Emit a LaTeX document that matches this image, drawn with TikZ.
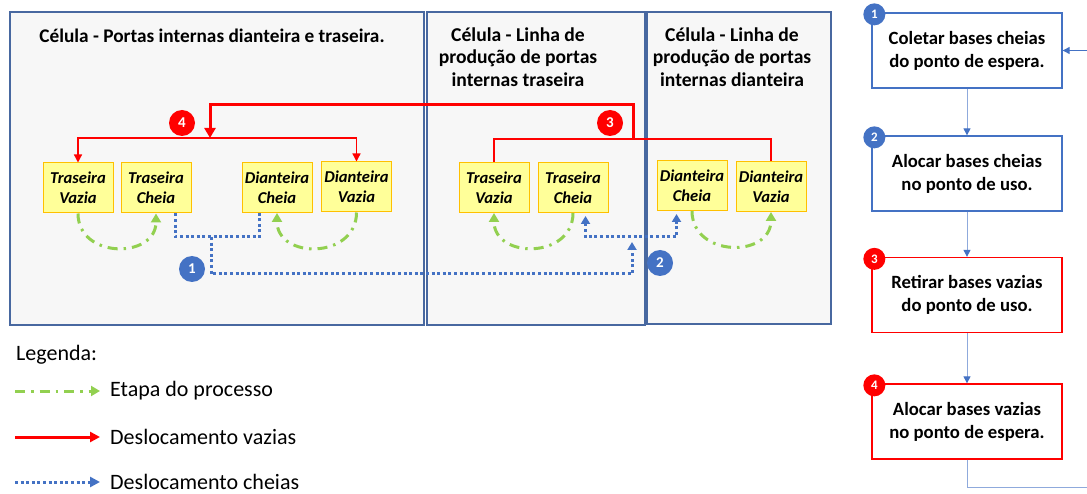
\documentclass[tikz,border=0pt]{standalone}
\usepackage{fontspec}
\setmainfont{Carlito}
\usetikzlibrary{
    arrows.meta,
    positioning
}
\definecolor{painel}{RGB}{72,104,160}
\definecolor{fundo}{RGB}{247,247,247}
\definecolor{amarelo}{RGB}{255,255,153}
\definecolor{ouro}{RGB}{255,192,0}
\definecolor{verde}{RGB}{146,208,80}
\definecolor{azul}{RGB}{68,114,196}
\definecolor{azulclaro}{RGB}{143,170,220}
\definecolor{vermelho}{RGB}{255,0,0}

\begin{document}
\begin{tikzpicture}[x=1pt, y=1pt,
    base/.style={draw=ouro, fill=amarelo, line width=1pt, minimum width=70pt, minimum height=50pt,
        align=center, inner sep=1pt, font=\fontsize{16.6}{20}\selectfont\bfseries\itshape},
    passo/.style={draw, line width=1.3pt, fill=white, minimum width=190pt, minimum height=75pt,
        align=center, font=\fontsize{18.7}{23}\selectfont\bfseries},
    marca/.style={circle, text=white, minimum size=26pt, inner sep=0pt, font=\fontsize{15}{15}\selectfont\bfseries},
    marquinha/.style={marca, minimum size=22pt, font=\fontsize{13}{13}\selectfont\bfseries},
    titulo/.style={align=center, font=\fontsize{19.6}{22.5}\selectfont\bfseries},
    legenda/.style={anchor=west, inner xsep=10pt, font=\fontsize{22}{24}\selectfont},
    etapa/.style={verde, line width=3pt, dash pattern=on 10pt off 6pt on 2.5pt off 6pt,
        -{Triangle[length=9pt, width=10pt]}},
    vazia/.style={vermelho, line width=1.3pt},
    cheia/.style={azul, line width=3pt, dash pattern=on 3pt off 2.6pt},
    fluxo/.style={azulclaro, line width=1pt}
]
    \useasboundingbox (0,0) rectangle (1087,-494);

    \draw[painel, line width=1.5pt, fill=fundo] (10,-12) rectangle (424,-325);
    \draw[painel, line width=1.5pt, fill=fundo] (427,-12) rectangle (645,-325);
    \draw[painel, line width=1.5pt, fill=fundo] (647,-12) rectangle (831,-324);

    \node[titulo, font=\fontsize{19.3}{22}\selectfont\bfseries] (t1) at (212,-36) {Célula - Portas internas dianteira e traseira.};
    \node[titulo] (t2) at (518,-57) {Célula - Linha de\\produção de portas\\internas traseira};
    \node[titulo] (t3) at (732,-57) {Célula - Linha de\\produção de portas\\internas dianteira};

    \node[base] (tv1) at (78,-188) {Traseira\\Vazia};
    \node[base] (tc1) at (156,-188) {Traseira\\Cheia};
    \node[base] (dc1) at (277,-187.5) {Dianteira\\Cheia};
    \node[base] (dv1) at (356.5,-187) {Dianteira\\Vazia};
    \node[base] (tv2) at (494,-187.5) {Traseira\\Vazia};
    \node[base] (tc2) at (573,-187.5) {Traseira\\Cheia};
    \node[base] (dc3) at (692,-185.5) {Dianteira\\Cheia};
    \node[base] (dv3) at (771,-186.5) {Dianteira\\Vazia};

    \coordinate (j4) at (210,-138);
    \coordinate (j3) at (633,-139);
    \coordinate (j1) at (211,-237);
    \coordinate (j2) at (632,-237);

    \draw[etapa] (tv1.south) to[out=-90, in=-90, looseness=1.5] (tc1.south);
    \draw[etapa] (dv1.south) to[out=-90, in=-90, looseness=1.5] (dc1.south);
    \draw[etapa] (tc2.south) to[out=-90, in=-90, looseness=1.5] (tv2.south);
    \draw[etapa] (dc3.south) to[out=-90, in=-90, looseness=1.5] (dv3.south);

    \draw[vazia, {Triangle[length=8pt, width=8pt]}-{Triangle[length=8pt, width=8pt]}] (tv1.north) |- (j4) -| (dv1.north);
    \draw[vazia] (tv2.north) |- (j3) -| (dv3.north);
    \draw[vazia, line width=3pt, -{Triangle[length=10pt, width=11pt]}] (j3) -- (j3 |- 0,-105) -| (j4);

    \draw[cheia] ([xshift=-16pt]tc1.south east) |- (j1) -| ([xshift=18pt]dc1.south west);
    \draw[cheia, -{Triangle[length=8pt, width=9pt]}, shorten >=5pt] (j1) -- (211,-274) -| (j2);
    \draw[cheia, {Triangle[length=8pt, width=9pt]}-{Triangle[length=8pt, width=9pt]}, shorten <=3pt, shorten >=3pt]
        ([xshift=-23pt]tc2.south east) |- (j2) -| ([xshift=20pt]dc3.south west);

    \node[marca, fill=azul] (b1) at (192,-269) {1};
    \node[marca, fill=azul] (b2) at (660,-263) {2};
    \node[marca, fill=vermelho] (b3) at (610,-123) {3};
    \node[marca, fill=vermelho] (b4) at (182,-123) {4};

    \node[passo, draw=azul] (s1) at (967,-50.5) {Coletar bases cheias\\do ponto de espera.};
    \node[passo, draw=azul] (s2) at (967,-173.5) {Alocar bases cheias\\no ponto de uso.};
    \node[passo, draw=vermelho] (s3) at (967,-295) {Retirar bases vazias\\do ponto de uso.};
    \node[passo, draw=vermelho] (s4) at (967,-421.5) {Alocar bases vazias\\no ponto de espera.};

    \node[marquinha, fill=azul] (m1) at ([shift={(3,-2)}]s1.north west) {1};
    \node[marquinha, fill=azul] (m2) at ([shift={(3,-2)}]s2.north west) {2};
    \node[marquinha, fill=vermelho] (m3) at ([shift={(3,-2)}]s3.north west) {3};
    \node[marquinha, fill=vermelho] (m4) at ([shift={(3,-2)}]s4.north west) {4};

    \coordinate (sai) at (1087,-487);
    \coordinate (entra) at (1087,-50.5);
    \draw
    (s1) edge[fluxo, -{Triangle[length=7pt, width=7pt, azul]}] (s2)
    (s2) edge[fluxo, -{Triangle[length=7pt, width=7pt, azul]}] (s3)
    (s3) edge[fluxo, -{Triangle[length=7pt, width=7pt, azul]}] (s4)
    (s4.south) edge[fluxo, to path={|- (\tikztotarget)}] (sai)
    (entra) edge[fluxo, azul, -{Triangle[length=7pt, width=7pt]}] (s1);

    \node[legenda, inner xsep=4pt] (leg) at (12,-355) {Legenda:};
    \node[legenda] (e1) at (100,-391) {Etapa do processo};
    \node[legenda] (e2) at (100,-437) {Deslocamento vazias};
    \node[legenda] (e3) at (100,-482) {Deslocamento cheias};
    \coordinate (c1) at (15,-391);
    \coordinate (c2) at (15,-437);
    \coordinate (c3) at (15,-482);
    \draw[etapa] (c1) -- (e1);
    \draw[vazia, line width=3pt, -{Triangle[length=10pt, width=10pt]}] (c2) -- (e2);
    \draw[cheia, -{Triangle[length=10pt, width=10pt]}] (c3) -- (e3);
\end{tikzpicture}
\end{document}
